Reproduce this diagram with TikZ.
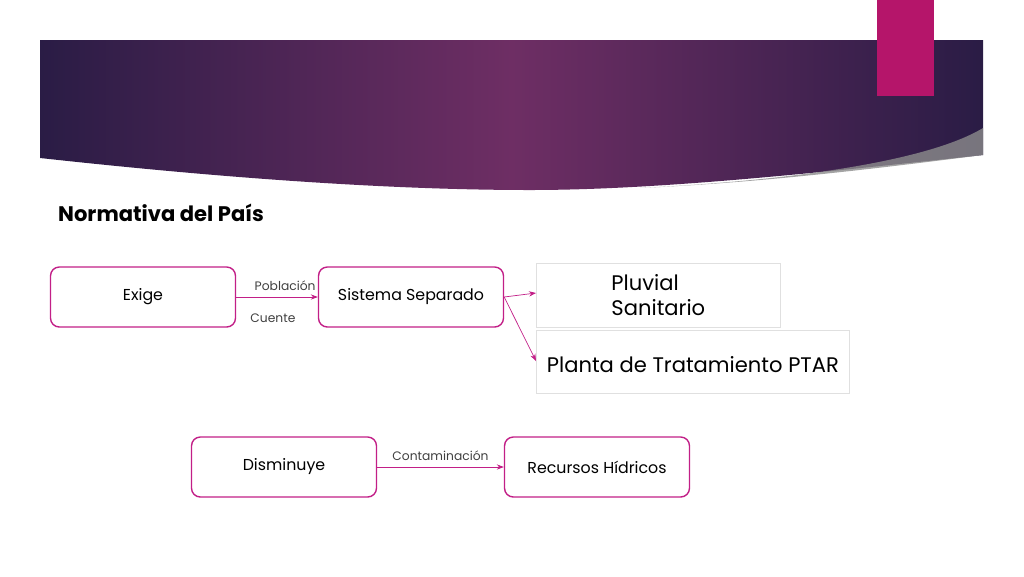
\documentclass[tikz,border=0pt]{standalone}
\usepackage{fontspec}
\setmainfont{Poppins}
\usetikzlibrary{arrows.meta, positioning}
\definecolor{slidemag}{HTML}{B5156A}
\definecolor{boxmag}{HTML}{C21F87}
\definecolor{banner}{HTML}{4A2457}
\definecolor{bannerdark}{HTML}{2A1C45}
\definecolor{bannerpink}{HTML}{6E2E64}

\begin{document}
\begin{tikzpicture}[
    x=0.02cm, y=-0.02cm,
    block/.style={rectangle, draw=boxmag, fill=white, thick,
                  minimum width=3.7cm, minimum height=1.2cm,
                  align=center, font=\small, rounded corners=5pt},
    textbox/.style={rectangle, draw=black!12, fill=white,
                    align=left, anchor=north west, inner sep=6pt,
                    font=\large},
    arrow/.style={-{Stealth[length=4pt]}, color=boxmag},
    tag/.style={font=\scriptsize, text=black!75},
  ]
  \useasboundingbox (0,0) rectangle (1024,576);

  % Banner
  \shade[left color=bannerdark, right color=bannerdark, middle color=bannerpink]
    (40,40) -- (983,40) -- (983,155) .. controls (800,175) and (650,190) .. (530,190)
    .. controls (350,190) and (150,170) .. (40,158) -- cycle;
  \fill[black!45!white, opacity=0.8] (640,188) .. controls (800,180) and (930,160) .. (983,128)
    -- (983,155) .. controls (850,172) and (750,183) .. cycle;
  \fill[slidemag] (877,0) rectangle (934,96);

  \node[anchor=west, font=\large\bfseries] (title) at (52,213) {Normativa del País};

  % First row
  \node[block] (exige) at (143,297) {Exige};
  \node[block] (sistema) at (411,297) {Sistema Separado};
  \node[textbox, minimum width=4.88cm, minimum height=1.28cm] (pluvial) at (536,263)
    {Pluvial\\Sanitario};
  \node[textbox, minimum width=5.88cm, minimum height=1.26cm, anchor=north west,
        text height=1.2em] (planta) at (536,330) {Planta de Tratamiento PTAR};

  % Second row
  \node[block] (disminuye) at (284,467) {Disminuye};
  \node[block] (recursos) at (597,467) {Recursos Hídricos};

  \draw[arrow] (exige) -- node[above, tag, pos=0.6] {Población}
    node[below, tag, pos=0.45, yshift=-6pt] {Cuente} (sistema);
  \draw[arrow] (sistema.east) -- (pluvial.west |- 0,293);
  \draw[arrow] (sistema.east) -- (planta.west |- 0,361);
  \draw[arrow] (disminuye) -- node[above, tag] {Contaminación} (recursos);

\end{tikzpicture}
\end{document}
